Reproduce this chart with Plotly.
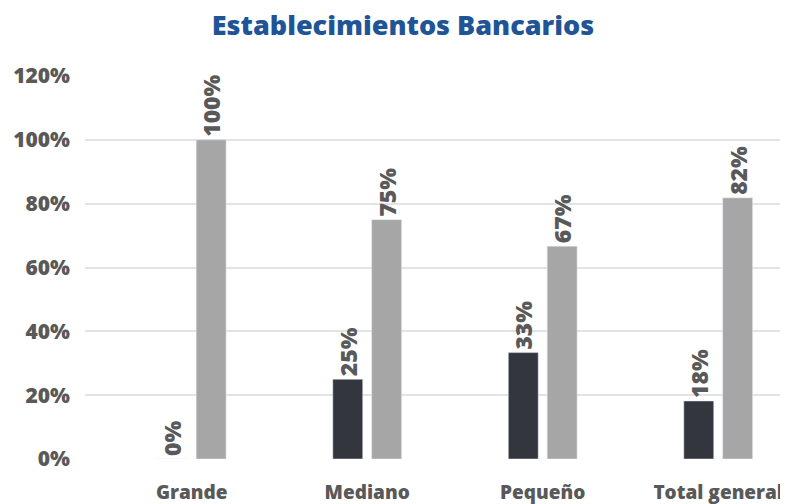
import plotly.graph_objects as go

categories = ["Grande", "Mediano", "Pequeño", "Total general"]
serie_a = [0.00, 0.25, 0.3333, 0.1818]
serie_b = [1.00, 0.75, 0.6667, 0.8182]
labels_a = ["0%", "25%", "33%", "18%"]
labels_b = ["100%", "75%", "67%", "82%"]
tick_vals = [0, 0.2, 0.4, 0.6, 0.8, 1.0, 1.2]
tick_text = ["0%", "20%", "40%", "60%", "80%", "100%", "120%"]

FONT = "Open Sans"
LABEL_COLOR = "#595959"

fig = go.Figure()
fig.add_trace(go.Bar(
    x=categories, y=serie_a, marker_color="#33363D",
    text=labels_a, textposition="outside", textangle=-90,
    constraintext="none",
    textfont=dict(family=FONT, size=23, color=LABEL_COLOR, weight=800),
    cliponaxis=False, name="A",
))
fig.add_trace(go.Bar(
    x=categories, y=serie_b, marker_color="#A6A6A6",
    text=labels_b, textposition="outside", textangle=-90,
    constraintext="none",
    textfont=dict(family=FONT, size=23, color=LABEL_COLOR, weight=800),
    cliponaxis=False, name="B",
))

# page body has an 8px margin, so the figure is drawn at (8, 8)
fig.update_layout(
    width=780, height=496,
    margin=dict(l=77, r=1, t=68, b=45, autoexpand=False),
    paper_bgcolor="white", plot_bgcolor="white",
    showlegend=False,
    barmode="group", bargap=0.557, bargroupgap=0.23,
    title=dict(text="Establecimientos Bancarios", x=395 / 780, xanchor="center",
               y=1 - 18 / 496, yanchor="middle",
               font=dict(family=FONT, size=27, color="#1F5597", weight=800)),
)
fig.update_xaxes(
    range=[-0.608, 3.392], showgrid=False, zeroline=False, showline=False,
    automargin=False,
    ticks="", tickfont=dict(family=FONT, size=19, color=LABEL_COLOR, weight=800),
    ticklabelstandoff=20,
)
fig.update_yaxes(
    range=[0, 1.2], tickvals=tick_vals, ticktext=tick_text,
    showgrid=True, gridcolor="#E3E3E3", gridwidth=2, zeroline=False,
    automargin=False,
    ticks="", ticklabelstandoff=14,
    tickfont=dict(family=FONT, size=21, color=LABEL_COLOR, weight=800),
)

fig.write_html("out.html")
